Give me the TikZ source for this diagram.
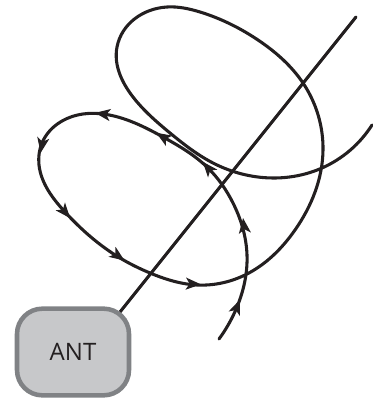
\documentclass[tikz,border=0pt]{standalone}
\usepackage{fontspec}
\setmainfont{Open Sans}
\usetikzlibrary{hobby}
\pgfdeclarelayer{under}
\pgfsetlayers{under,main}
\definecolor{ink}{HTML}{231F20}
\definecolor{antfill}{HTML}{C7C8CA}
\definecolor{antedge}{HTML}{808285}
\tikzset{
  wire/.style={draw=ink,line width=2.3pt,line cap=round,line join=round},
  antbox/.style={draw=antedge,fill=antfill,line width=3.4pt,rounded corners=19pt,minimum width=84pt,minimum height=65pt,inner sep=0pt,text=ink,font=\fontsize{18}{21}\selectfont},
  pics/barb/.style={code={\fill[ink] (6pt,0)--(-5.5pt,4.6pt)--(-2.5pt,0)--(-5.5pt,-4.6pt)--cycle;}}
}
\begin{document}
\begin{tikzpicture}[x=0.75pt,y=-0.75pt]
\useasboundingbox (0,0) rectangle (372,398);
\node[antbox] (ant) at (73,352) {ANT};
\coordinate (lineend) at (356,17);
\begin{pgfonlayer}{under}
\draw[wire] ([xshift=11.25pt]ant.center) -- (lineend);
\end{pgfonlayer}
\draw[wire,use Hobby shortcut] (219,339) .. (237,307) .. (247,255) .. (233,203)
 .. (208,168) .. (163,137) .. (103,114) .. (83,114) .. (42,143) .. (39,165)
 .. (65,212) .. (120,258) .. (150,273) .. (197,285) .. (245,275) .. (295,230) .. (323,150) .. (303,83)
 .. (258,40) .. (200,12) .. (167,7) .. (117,47) .. (133,97) .. (170,133) .. (213,163) .. (273,178)
 .. (322,168) .. (372,125);
\foreach \x/\y/\a in {237/307/68,244/226/97,208/168/130,163/137/148,103/114/172,42/145/260,65/212/-50,118/256/-35,193/284/-3}
  \pic[rotate=\a] at (\x,\y) {barb};
\end{tikzpicture}
\end{document}
